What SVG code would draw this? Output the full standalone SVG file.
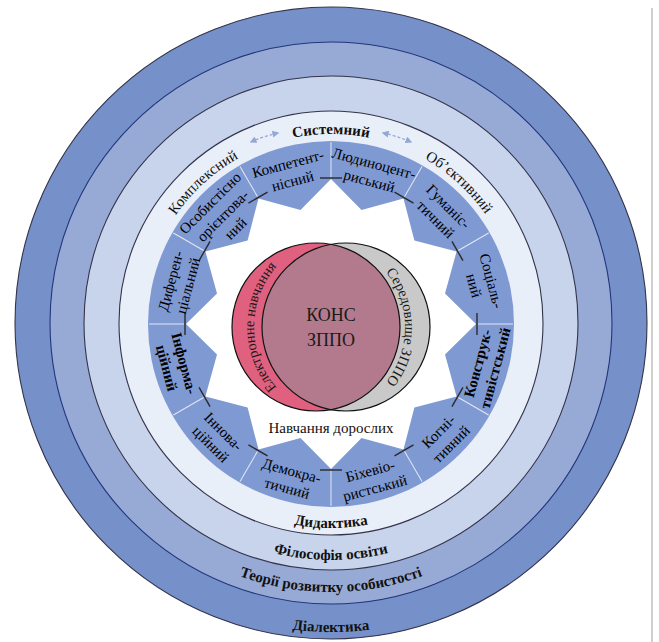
<svg xmlns="http://www.w3.org/2000/svg" width="659" height="642" viewBox="0 0 659 642">
<style>
.rt{font-family:"Liberation Serif",serif;font-size:15px;font-weight:bold;fill:#111;}
.ap{font-family:"Liberation Serif",serif;font-size:15px;fill:#111;}
.sg{font-family:"Liberation Serif",serif;font-size:15px;fill:#000;text-anchor:middle;}
.vn{font-family:"Liberation Serif",serif;font-size:14.5px;fill:#1a1a1a;}
.ring{stroke:#33334a;stroke-width:1.1;}
.tick{stroke:#2a2a2a;stroke-width:1.4;}
.rad{stroke:#e2e8f5;stroke-width:1;}
.dash{fill:none;stroke:#94a8d4;stroke-width:1.3;stroke-dasharray:3 2;}
</style>
<defs>
<marker id="ah" viewBox="0 0 10 10" refX="8" refY="5" markerWidth="7" markerHeight="7" orient="auto-start-reverse" markerUnits="userSpaceOnUse">
<path d="M0,0 L10,5 L0,10 z" fill="#94a8d4"/>
</marker>
<path id="pTop" d="M 142,323 A 189 189 0 0 1 520,323"/>
<path id="pDid" d="M 126,323 A 205 205 0 0 0 536,323"/>
<path id="pFil" d="M 94,323 A 237 237 0 0 0 568,323"/>
<path id="pTeo" d="M 62,323 A 269 269 0 0 0 600,323"/>
<path id="pDia" d="M 22,323 A 309 309 0 0 0 640,323"/>
<path id="pEl" d="M 346,419 A 92 92 0 0 1 346,235"/>
<path id="pSer" d="M 316,238 A 89 89 0 0 1 316,416"/>
</defs>
<rect width="659" height="642" fill="#ffffff"/>
<line x1="652" y1="8" x2="652" y2="642" stroke="#cfcfcf" stroke-width="2"/>

<g id="ring-dialektyka">
<circle cx="331" cy="323" r="316" fill="#7691c9" class="ring"/>
<text class="rt"><textPath href="#pDia" startOffset="50%" text-anchor="middle">Діалектика</textPath></text>
</g>
<g id="ring-teorii">
<circle cx="331" cy="323" r="281" fill="#97aad6" stroke="#23357a" stroke-width="1.1"/>
<text class="rt"><textPath href="#pTeo" startOffset="50%" text-anchor="middle">Теорії розвитку особистості</textPath></text>
</g>
<g id="ring-filosofiia">
<circle cx="331" cy="323" r="247" fill="#c8d4ec" class="ring"/>
<text class="rt"><textPath href="#pFil" startOffset="50%" text-anchor="middle">Філософія освіти</textPath></text>
</g>
<g id="ring-dydaktyka">
<circle cx="331" cy="323" r="212" fill="#e9eff9" class="ring"/>
<text class="rt"><textPath href="#pDid" startOffset="50%" text-anchor="middle">Дидактика</textPath></text>
</g>

<g id="approaches">
<text class="ap"><textPath href="#pTop" startOffset="26.5%" text-anchor="middle">Комплексний</textPath></text>
<text class="ap" font-weight="bold"><textPath href="#pTop" startOffset="50%" text-anchor="middle">Системний</textPath></text>
<text class="ap"><textPath href="#pTop" startOffset="73.5%" text-anchor="middle">Об’єктивний</textPath></text>
</g>

<g id="connectors">
<path class="dash" d="M 251,142 Q 264,136 278,133" marker-start="url(#ah)" marker-end="url(#ah)"/>
<path class="dash" d="M 383,133 Q 397,136 411,142" marker-start="url(#ah)" marker-end="url(#ah)"/>
</g>

<g id="principles-ring">
<circle cx="331" cy="324" r="183" fill="#7f99d3"/>
<polygon fill="#ffffff" points="331,179 361.5,210 403.5,198.4 414.4,240.6 456.6,251.5 445,293.5 476,324 445,354.5 456.6,396.5 414.4,407.4 403.5,449.6 361.5,438 331,469 300.5,438 258.5,449.6 247.6,407.4 205.4,396.5 217,354.5 186,324 217,293.5 205.4,251.5 247.6,240.6 258.5,198.4 300.5,210"/>
<g transform="translate(331,324)">
<g class="rad">
<line x1="0" y1="-147" x2="0" y2="-182" transform="rotate(0)"/>
<line x1="0" y1="-147" x2="0" y2="-182" transform="rotate(30)"/>
<line x1="0" y1="-147" x2="0" y2="-182" transform="rotate(60)"/>
<line x1="0" y1="-147" x2="0" y2="-182" transform="rotate(90)"/>
<line x1="0" y1="-147" x2="0" y2="-182" transform="rotate(120)"/>
<line x1="0" y1="-147" x2="0" y2="-182" transform="rotate(150)"/>
<line x1="0" y1="-147" x2="0" y2="-182" transform="rotate(180)"/>
<line x1="0" y1="-147" x2="0" y2="-182" transform="rotate(210)"/>
<line x1="0" y1="-147" x2="0" y2="-182" transform="rotate(240)"/>
<line x1="0" y1="-147" x2="0" y2="-182" transform="rotate(270)"/>
<line x1="0" y1="-147" x2="0" y2="-182" transform="rotate(300)"/>
<line x1="0" y1="-147" x2="0" y2="-182" transform="rotate(330)"/>
</g>
<g class="tick">
<line x1="-11" y1="-146" x2="11" y2="-146" transform="rotate(0)"/>
<line x1="-11" y1="-146" x2="11" y2="-146" transform="rotate(30)"/>
<line x1="-11" y1="-146" x2="11" y2="-146" transform="rotate(60)"/>
<line x1="-11" y1="-146" x2="11" y2="-146" transform="rotate(90)"/>
<line x1="-11" y1="-146" x2="11" y2="-146" transform="rotate(120)"/>
<line x1="-11" y1="-146" x2="11" y2="-146" transform="rotate(150)"/>
<line x1="-11" y1="-146" x2="11" y2="-146" transform="rotate(180)"/>
<line x1="-11" y1="-146" x2="11" y2="-146" transform="rotate(210)"/>
<line x1="-11" y1="-146" x2="11" y2="-146" transform="rotate(240)"/>
<line x1="-11" y1="-146" x2="11" y2="-146" transform="rotate(270)"/>
<line x1="-11" y1="-146" x2="11" y2="-146" transform="rotate(300)"/>
<line x1="-11" y1="-146" x2="11" y2="-146" transform="rotate(330)"/>
</g>
</g>
</g>

<g id="seg-kompetentnisnyi" transform="translate(331,324) rotate(-15)"><text class="sg" y="-161">Компетент-</text><text class="sg" y="-143">нісний</text></g>
<g id="seg-liudynotsentryskyi" transform="translate(331,324) rotate(15)"><text class="sg" y="-161">Людиноцент-</text><text class="sg" y="-143">риський</text></g>
<g id="seg-humanistychnyi" transform="translate(331,324) rotate(45)"><text class="sg" y="-161">Гуманіс-</text><text class="sg" y="-143">тичний</text></g>
<g id="seg-sotsialnyi" transform="translate(331,324) rotate(75)"><text class="sg" y="-161">Соціаль-</text><text class="sg" y="-143">ний</text></g>
<g id="seg-konstruktyvistskyi" transform="translate(331,324) rotate(-75)"><text class="sg" y="157" font-weight="bold">Конструк-</text><text class="sg" y="175" font-weight="bold">тивістський</text></g>
<g id="seg-kohnityvnyi" transform="translate(331,324) rotate(-45)"><text class="sg" y="157">Когні-</text><text class="sg" y="175">тивний</text></g>
<g id="seg-bikheviorystskyi" transform="translate(331,324) rotate(-15)"><text class="sg" y="157">Біхевіо-</text><text class="sg" y="175">ристський</text></g>
<g id="seg-demokratychnyi" transform="translate(331,324) rotate(15)"><text class="sg" y="157">Демокра-</text><text class="sg" y="175">тичний</text></g>
<g id="seg-innovatsiinyi" transform="translate(331,324) rotate(45)"><text class="sg" y="157">Іннова-</text><text class="sg" y="175">ційний</text></g>
<g id="seg-informatsiinyi" transform="translate(331,324) rotate(75)"><text class="sg" y="157" font-weight="bold">Інформа-</text><text class="sg" y="175" font-weight="bold">ційний</text></g>
<g id="seg-dyferentsialnyi" transform="translate(331,324) rotate(-75)"><text class="sg" y="-161">Диферен-</text><text class="sg" y="-143">ціальний</text></g>
<g id="seg-osobystisno" transform="translate(331,324) rotate(-45)"><text class="sg" y="-166">Особистісно</text><text class="sg" y="-148">орієнтова-</text><text class="sg" y="-130">ний</text></g>

<g id="venn">
<circle cx="316" cy="327" r="84" fill="#e0607f"/>
<circle cx="346" cy="327" r="84" fill="#c9c9c9"/>
<path d="M 331,244.35 A 84 84 0 0 1 331,409.65 A 84 84 0 0 1 331,244.35 Z" fill="#b27a8c"/>
<circle cx="316" cy="327" r="84" fill="none" stroke="#111" stroke-width="1.2"/>
<circle cx="346" cy="327" r="84" fill="none" stroke="#111" stroke-width="1.2"/>
<text class="vn"><textPath href="#pEl" startOffset="50%" text-anchor="middle">Електронне навчання</textPath></text>
<text class="vn"><textPath href="#pSer" startOffset="50%" text-anchor="middle">Середовище ЗППО</textPath></text>
<text x="331" y="321" text-anchor="middle" font-family="Liberation Serif, serif" font-size="18" fill="#1a1a1a">КОНС</text>
<text x="331" y="346" text-anchor="middle" font-family="Liberation Serif, serif" font-size="18" fill="#1a1a1a">ЗППО</text>
</g>

<g id="adult-learning">
<text x="331" y="433" text-anchor="middle" font-family="Liberation Serif, serif" font-size="15" fill="#111">Навчання дорослих</text>
</g>
</svg>
